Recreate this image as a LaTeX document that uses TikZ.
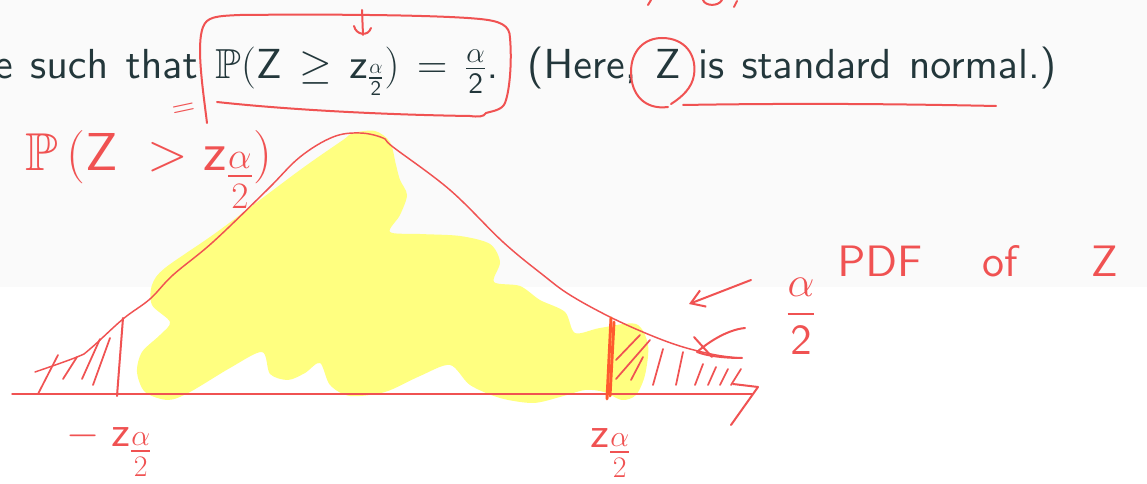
\RequirePackage{fix-cm}
\documentclass[tikz,border=0pt]{standalone}
\usepackage[OT1]{fontenc}
\usepackage{amsmath}
\usepackage{amssymb}
\usepackage{xcolor}
\usetikzlibrary{arrows.meta, positioning, calc}
\definecolor{slidebg}{HTML}{FAFAFA}
\definecolor{slidetext}{HTML}{23373B}
\definecolor{inkred}{HTML}{F05252}
\definecolor{inkorange}{HTML}{FF5A2E}
\definecolor{marker}{HTML}{FFFF80}
% one design size of the sans, scaled freely
\DeclareFontFamily{OT1}{cmssten}{}
\DeclareFontShape{OT1}{cmssten}{m}{n}{<->cmss10}{}
\renewcommand{\sfdefault}{cmssten}
\DeclareMathAlphabet{\mathsf}{OT1}{cmssten}{m}{n}

\begin{document}
\begin{tikzpicture}[
  x=0.75pt, y=-0.75pt,
  ink/.style={draw=inkred, line width=1.5pt, line cap=round, line join=round},
  curveink/.style={draw=inkred, line width=1.1pt, line cap=round},
  hatch/.style={draw=inkred, line width=1.3pt, line cap=round},
  cutline/.style={draw=inkorange, line width=2.2pt, line cap=round},
  hilite/.style={fill=marker},
  slide/.style={font=\fontsize{31.5}{38}\selectfont\sffamily,
    text=slidetext, inner sep=0pt},
  hand/.style={font=\fontsize{32}{38}\selectfont\sffamily,
    text=inkred, inner sep=0pt},
  handarrow/.style={ink, -{Straight Barb[length=10pt, width=13pt]}},
]
  %% Slide background
  \fill[white] (0,0) rectangle (1147,484);
  \fill[slidebg] (0,0) rectangle (1147,287);
  \useasboundingbox (0,0) rectangle (1147,484);

  %% ─── HIGHLIGHTER ─────────────────────────────────────────────────────
  \fill[hilite] plot[smooth cycle, tension=0.5] coordinates {
    (353,133) (375,131) (390,142) (396,165) (400,180) (407,195) (400,215)
    (390,232) (420,234) (460,236) (490,244) (500,262) (494,282) (520,286)
    (540,300) (565,312) (575,333) (600,328) (636,324) (648,345) (645,375)
    (636,395) (622,400) (604,392) (585,390) (560,397) (533,403) (500,398)
    (470,385) (450,365) (420,376) (385,392) (350,396) (330,385) (320,363)
    (305,373) (288,380) (270,374) (262,352) (230,368) (190,392) (168,400)
    (145,392) (137,372) (142,352) (160,335) (170,322) (152,305) (152,285)
    (165,268) (217,232) (300,170) (343,140)};

  %% ─── SLIDE TEXT ──────────────────────────────────────────────────────
  \node[slide, anchor=base east] (sentence) at (1057,79)
    {\makebox[797pt][s]{e such that
     $\mathbb{P}(\mathsf{Z} \geq \mathsf{z}_{\frac{\alpha}{\mathsf{2}}})
     = \frac{\alpha}{\mathsf{2}}$. (Here, $\mathsf{Z}$ is standard normal.)}};

  %% ─── MARKS ON THE SENTENCE ───────────────────────────────────────────
  % box round the probability
  \draw[ink] (207,123) .. controls (203,90) and (196,45) .. (203,27)
    .. controls (207,17) and (215,16) .. (240,15)
    .. controls (330,14) and (440,15) .. (480,19)
    .. controls (500,21) and (510,25) .. (510,38)
    .. controls (512,60) and (510,90) .. (505,103)
    .. controls (502,110) and (493,111) .. (486,113)
    .. controls (484,117) and (478,117) .. (470,116)
    .. controls (400,115) and (300,111) .. (217,102);
  \draw[ink] (362,10) -- (363,35);
  \draw[ink] (354,26) .. controls (356,35) and (368,37) .. (371,28);
  % ring round Z and underline
  \draw[ink] (668,107) .. controls (645,110) and (631,95) .. (631,72)
    .. controls (631,50) and (645,38) .. (662,38)
    .. controls (685,38) and (697,55) .. (694,75)
    .. controls (692,88) and (682,97) .. (671,104);
  \draw[ink] (683,105) .. controls (800,103) and (900,104) .. (996,106);
  % cut-off strokes at the top edge
  \draw[ink] (651,0) -- (648,5);
  \draw[ink] (703,0) .. controls (705,6) and (718,7) .. (722,0);
  \draw[ink] (737,1) -- (734,7);

  \node[hand, font=\fontsize{24}{28}\selectfont, rotate=12] (eqmark)
    at (184,111) {=};
  \node[hand, font=\fontsize{40}{46}\selectfont\sffamily, anchor=base west]
    (tailprob) at (25,171)
    {$\mathbb{P}\,(\mathsf{Z}\;>\mathsf{z}_{\textstyle\frac{\alpha}{2}})$};

  %% ─── DENSITY ─────────────────────────────────────────────────────────
  \draw[curveink] plot[smooth, tension=0.6] coordinates {
    (35,372) (77,357) (90,349) (123,319) (150,299) (173,275) (213,242)
    (267,190) (300,157) (333,137) (360,133) (383,138) (393,147) (450,190)
    (503,242) (543,275) (570,295) (610,317) (650,335) (683,347) (716,355)
    (740,358)};

  % axis
  \draw[curveink] (12,394) -- (752,394);
  \draw[ink] (733,384) -- (758,387) -- (731,425);

  % left tail
  \draw[ink] (123,318) -- (117,396);
  \foreach \xa/\ya/\xb/\yb in {58/355/38/394, 77/357/63/379,
      100/339/82/379, 110/338/93/385}
    \draw[hatch] (\xa,\ya) -- (\xb,\yb);

  % right tail
  \draw[cutline] (611,318) -- (607,399);
  \draw[cutline] (614,322) -- (610,396);
  \foreach \xa/\ya/\xb/\yb in {640/335/616/360, 650/340/616/379,
      643/357/631/380, 663/349/653/385, 683/352/676/385, 703/364/695/385,
      716/367/708/385, 728/369/720/385, 741/369/731/385}
    \draw[hatch] (\xa,\ya) -- (\xb,\yb);
  \draw[ink] (745,328) .. controls (725,330) and (705,345) .. (697,352)
    .. controls (710,357) and (730,358) .. (742,358);
  \draw[ink] (694,337) -- (712,357);

  %% ─── LABELS ──────────────────────────────────────────────────────────
  \node[hand, font=\fontsize{33}{40}\selectfont\sffamily, anchor=base west]
    (pdf) at (837,277) {PDF\hspace{45pt}of\hspace{55pt}Z};
  \coordinate (pdftail) at (751,280);
  \coordinate (pdfhead) at (689,304);
  \draw[handarrow] (pdftail) -- (pdfhead);

  \node[hand] (tailarea)
    at (801,316) {$\displaystyle\frac{\alpha}{\mathsf{2}}$};
  \node[hand, anchor=base west] (lowcut) at (66,447)
    {$-\;\mathsf{z}_{\textstyle\frac{\alpha}{2}}$};
  \node[hand, anchor=base west] (upcut) at (590,448)
    {$\mathsf{z}_{\textstyle\frac{\alpha}{2}}$};
\end{tikzpicture}
\end{document}
